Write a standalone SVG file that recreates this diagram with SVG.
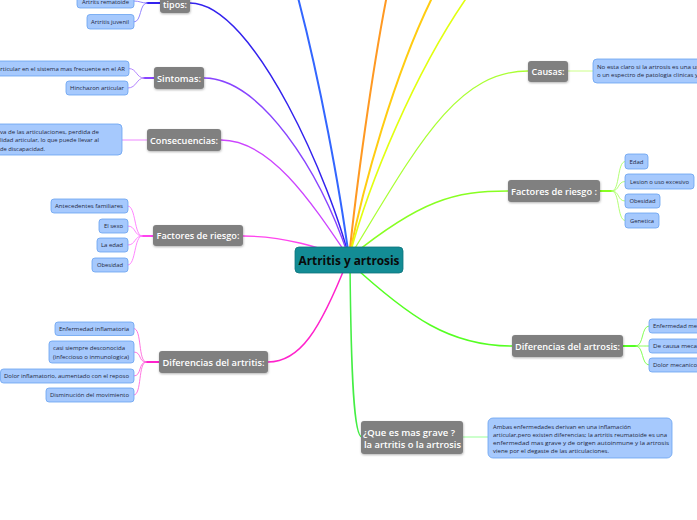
<svg xmlns="http://www.w3.org/2000/svg" width="697" height="520" viewBox="0 0 697 520">
<style>
.bg{fill:#ffffff}
.c{fill:none;stroke-linecap:round}
.g rect{fill:#808080;filter:url(#sh)}
.g text{fill:#ffffff;font-family:"Open Sans","Noto Sans",sans-serif;font-weight:600;font-size:9.5px;text-anchor:middle}
.s rect{fill:#a6c9fd;stroke:#68a2f0;stroke-width:0.8}
.s text{fill:#1e2740;font-family:"Open Sans","Noto Sans",sans-serif;font-size:5.6px;text-anchor:middle}
.s text.l{text-anchor:start}
.s text.e{text-anchor:end}
</style>
<defs>
<filter id="sh" x="-20%" y="-30%" width="140%" height="170%">
<feDropShadow dx="0.4" dy="1" stdDeviation="0.8" flood-color="#000" flood-opacity="0.3"/>
</filter>
</defs>
<rect class="bg" x="0" y="0" width="697" height="520"/>
<g id="connectors">
<path class="c" d="M349,258 C333,190 255,3 190,3" stroke="#3322ee" stroke-width="1.5"/>
<path class="c" d="M349,258 C340,190 320,80 296,-10" stroke="#3366ff" stroke-width="2"/>
<path class="c" d="M349,258 C356,190 372,70 388,-10" stroke="#ff9922" stroke-width="2"/>
<path class="c" d="M349,258 C362,190 395,70 436,-10" stroke="#ffcc11" stroke-width="2"/>
<path class="c" d="M349,258 C368,185 415,70 472,-10" stroke="#e2ff10" stroke-width="1.6"/>
<path class="c" d="M349,258 C415,150 455,71 528,71" stroke="#aaff33" stroke-width="1.3"/>
<path class="c" d="M349,258 C420,200 455,191 508,191" stroke="#88ff22" stroke-width="1.5"/>
<path class="c" d="M349,262 C410,318 450,346 512,346" stroke="#55ff22" stroke-width="1.5"/>
<path class="c" d="M350,262 C351,380 354,437 362,437" stroke="#44ee44" stroke-width="1.5"/>
<path class="c" d="M347,262 C320,330 300,362 268,362" stroke="#ff22cc" stroke-width="1.5"/>
<path class="c" d="M349,258 C320,248 285,236 243,236" stroke="#ff44ee" stroke-width="1.3"/>
<path class="c" d="M349,258 C310,200 270,140 221,140" stroke="#cc44ff" stroke-width="1.3"/>
<path class="c" d="M349,258 C320,170 260,78 204,78" stroke="#8844ff" stroke-width="1.3"/>
<!-- child connectors -->
<path class="c" d="M160,3 H147" stroke="#3322ee" stroke-width="1.8"/>
<path class="c" d="M147,3 C141,3 140,1 134,1 M147,3 C139,3 142,22 134,22" stroke="#8877ff" stroke-width="0.9"/>
<path class="c" d="M154,78 H144" stroke="#8844ff" stroke-width="1.8"/>
<path class="c" d="M144,78 C136,78 137,68.5 129,68.5 M144,78 C136,78 137,88 128,88" stroke="#aa77ff" stroke-width="0.9"/>
<path class="c" d="M147,140 H122" stroke="#ee88ff" stroke-width="1"/>
<path class="c" d="M153,236 H142" stroke="#ff44ee" stroke-width="1.8"/>
<path class="c" d="M142,236 C134,236 136,206 128,206 M142,236 C134,236 136,226 128,226 M142,236 C134,236 136,245 128,245 M142,236 C134,236 136,265 128,265" stroke="#ff77ff" stroke-width="0.9"/>
<path class="c" d="M159,362 H146" stroke="#ff22cc" stroke-width="1.8"/>
<path class="c" d="M146,362 C138,362 142,328.5 134,328.5 M146,362 C138,362 142,352 134,352 M146,362 C138,362 142,376 134,376 M146,362 C138,362 142,395 134,395" stroke="#ff66dd" stroke-width="0.9"/>
<path class="c" d="M568,71 H593" stroke="#ccff88" stroke-width="1"/>
<path class="c" d="M600,191 H612" stroke="#88ff22" stroke-width="1.8"/>
<path class="c" d="M612,191 C620,191 617,161.5 625,161.5 M612,191 C620,191 617,181.5 625,181.5 M612,191 C620,191 617,201 625,201 M612,191 C620,191 617,220.5 625,220.5" stroke="#aaff66" stroke-width="0.9"/>
<path class="c" d="M623,346 H636" stroke="#55ff22" stroke-width="1.8"/>
<path class="c" d="M636,346 C644,346 641,326 649,326 M636,346 C644,346 641,346 649,346 M636,346 C644,346 641,365 649,365" stroke="#77ff44" stroke-width="0.9"/>
<path class="c" d="M463,437 H488" stroke="#99ff99" stroke-width="1"/>
</g>

<g id="center">
<rect x="295" y="247" width="108" height="26" rx="4" fill="#138c95" stroke="#0e747c" stroke-width="0.8"/>
<text x="349" y="265" text-anchor="middle" font-family="Open Sans, Noto Sans, sans-serif" font-weight="700" font-size="12.5" fill="#0a0a0a" textLength="101" lengthAdjust="spacingAndGlyphs">Artritis y artrosis</text>
</g>

<g id="tipos" class="g"><rect x="160" y="-8" width="30" height="21" rx="3"/><text x="175" y="8" textLength="24" lengthAdjust="spacingAndGlyphs">tipos:</text></g>
<g id="sintomas" class="g"><rect x="154" y="67" width="50" height="22" rx="3"/><text x="179" y="81.5" textLength="44" lengthAdjust="spacingAndGlyphs">Sintomas:</text></g>
<g id="consecuencias" class="g"><rect x="147" y="129" width="74" height="22" rx="3"/><text x="184" y="143.5" textLength="68" lengthAdjust="spacingAndGlyphs">Consecuencias:</text></g>
<g id="factores-izq" class="g"><rect x="153" y="225" width="90" height="21" rx="3"/><text x="198" y="239" textLength="83" lengthAdjust="spacingAndGlyphs">Factores de riesgo:</text></g>
<g id="dif-artritis" class="g"><rect x="159" y="351" width="109" height="22" rx="3"/><text x="213.5" y="365.5" textLength="102" lengthAdjust="spacingAndGlyphs">Diferencias del artritis:</text></g>
<g id="causas" class="g"><rect x="528" y="61" width="40" height="21" rx="3"/><text x="548" y="75" textLength="33" lengthAdjust="spacingAndGlyphs">Causas:</text></g>
<g id="factores-der" class="g"><rect x="508" y="180" width="92" height="22" rx="3"/><text x="554" y="194.5" textLength="86" lengthAdjust="spacingAndGlyphs">Factores de riesgo :</text></g>
<g id="dif-artrosis" class="g"><rect x="512" y="335" width="111" height="22" rx="3"/><text x="567.5" y="349.5" textLength="105" lengthAdjust="spacingAndGlyphs">Diferencias del artrosis:</text></g>
<g id="que-es" class="g"><rect x="361" y="421" width="102" height="33" rx="3"/><text x="363" y="436" style="text-anchor:start" textLength="92" lengthAdjust="spacingAndGlyphs">¿Que es mas grave ?</text><text x="364" y="448" style="text-anchor:start" textLength="97" lengthAdjust="spacingAndGlyphs">la artritis o la artrosis</text></g>

<g id="artrits-rematoide" class="s"><rect x="77" y="-6" width="57" height="14" rx="3"/><text x="105.5" y="4" textLength="47" lengthAdjust="spacingAndGlyphs">Artrits rematoide</text></g>
<g id="artritis-juvenil" class="s"><rect x="87" y="14.5" width="47" height="14.5" rx="3"/><text x="110" y="24" textLength="38" lengthAdjust="spacingAndGlyphs">Artritis juvenil</text></g>
<g id="sint-1" class="s"><rect x="-10" y="61" width="139" height="15" rx="3"/><text class="e" x="125" y="70.5" textLength="128" lengthAdjust="spacingAndGlyphs">articular en el sistema mas frecuente en el AR</text></g>
<g id="sint-2" class="s"><rect x="66" y="81" width="62" height="14" rx="3"/><text x="97" y="90" textLength="54" lengthAdjust="spacingAndGlyphs">Hinchazon articular</text></g>
<g id="consec-1" class="s"><rect x="-10" y="124" width="132" height="31" rx="4"/><text class="l" x="0" y="133.8" textLength="99" lengthAdjust="spacingAndGlyphs">va de las articulaciones, perdida de</text><text class="l" x="0" y="142.2" textLength="99" lengthAdjust="spacingAndGlyphs">lidad articular, lo que puede llevar al</text><text class="l" x="0" y="150.5" textLength="45" lengthAdjust="spacingAndGlyphs">de discapacidad.</text></g>
<g id="fi-1" class="s"><rect x="51" y="199" width="77" height="14" rx="3"/><text x="89" y="208" textLength="68" lengthAdjust="spacingAndGlyphs">Antecedentes familiares</text></g>
<g id="fi-2" class="s"><rect x="99" y="219" width="29" height="14" rx="3"/><text x="113.5" y="228" textLength="19" lengthAdjust="spacingAndGlyphs">El sexo</text></g>
<g id="fi-3" class="s"><rect x="97" y="238" width="31" height="14" rx="3"/><text x="112" y="247" textLength="22" lengthAdjust="spacingAndGlyphs">La edad</text></g>
<g id="fi-4" class="s"><rect x="92" y="258" width="36" height="14" rx="3"/><text x="110" y="267" textLength="26" lengthAdjust="spacingAndGlyphs">Obesidad</text></g>
<g id="da-1" class="s"><rect x="55" y="322" width="79" height="13.5" rx="3"/><text x="94" y="331" textLength="70" lengthAdjust="spacingAndGlyphs">Enfermedad inflamatoria</text></g>
<g id="da-2" class="s"><rect x="49" y="341" width="85" height="22" rx="3"/><text class="l" x="53" y="349.8" textLength="72" lengthAdjust="spacingAndGlyphs">casi siempre desconocida</text><text class="l" x="53" y="358.8" textLength="76" lengthAdjust="spacingAndGlyphs">(infeccioso o inmunologica)</text></g>
<g id="da-3" class="s"><rect x="0.5" y="369" width="133.5" height="14" rx="3"/><text x="66.5" y="378" textLength="125" lengthAdjust="spacingAndGlyphs">Dolor inflamatorio, aumentado con el reposo</text></g>
<g id="da-4" class="s"><rect x="46" y="388" width="88" height="14" rx="3"/><text x="89.5" y="397" textLength="79" lengthAdjust="spacingAndGlyphs">Disminución del movimiento</text></g>
<g id="causas-1" class="s"><rect x="593" y="59" width="115" height="24" rx="4"/><text class="l" x="597" y="68.8" textLength="103" lengthAdjust="spacingAndGlyphs">No esta claro si la artrosis es una un</text><text class="l" x="597" y="76.8" textLength="101" lengthAdjust="spacingAndGlyphs">o un espectro de patologia clinicas y</text></g>
<g id="fd-1" class="s"><rect x="625" y="154" width="23" height="15" rx="3"/><text x="636.5" y="163.5" textLength="14" lengthAdjust="spacingAndGlyphs">Edad</text></g>
<g id="fd-2" class="s"><rect x="625" y="174" width="69" height="15" rx="3"/><text x="659.5" y="183.5" textLength="59" lengthAdjust="spacingAndGlyphs">Lesion o uso excesivo</text></g>
<g id="fd-3" class="s"><rect x="625" y="194" width="35" height="14" rx="3"/><text x="642.5" y="203" textLength="26" lengthAdjust="spacingAndGlyphs">Obesidad</text></g>
<g id="fd-4" class="s"><rect x="625" y="213" width="34" height="15" rx="3"/><text x="642" y="222.5" textLength="24" lengthAdjust="spacingAndGlyphs">Genetica</text></g>
<g id="do-1" class="s"><rect x="649" y="319" width="60" height="14" rx="3"/><text class="l" x="653" y="328" textLength="44" lengthAdjust="spacingAndGlyphs">Enfermedad me</text></g>
<g id="do-2" class="s"><rect x="649" y="339" width="60" height="14" rx="3"/><text class="l" x="653" y="348" textLength="44" lengthAdjust="spacingAndGlyphs">De causa meca</text></g>
<g id="do-3" class="s"><rect x="649" y="358" width="60" height="14" rx="3"/><text class="l" x="653" y="367" textLength="44" lengthAdjust="spacingAndGlyphs">Dolor mecanico</text></g>
<g id="que-es-1" class="s"><rect x="488" y="418" width="184" height="40" rx="5"/><text class="l" x="493" y="428.5" textLength="138" lengthAdjust="spacingAndGlyphs">Ambas enfermedades derivan en una inflamación</text><text class="l" x="493" y="436.5" textLength="174" lengthAdjust="spacingAndGlyphs">articular,pero existen diferencias; la artritis reumatoide es una</text><text class="l" x="493" y="444.8" textLength="176" lengthAdjust="spacingAndGlyphs">enfermedad mas grave y de origen autoinmune y la artrosis</text><text class="l" x="493" y="453" textLength="116" lengthAdjust="spacingAndGlyphs">viene por el degaste de las articulaciones.</text></g>
</svg>
